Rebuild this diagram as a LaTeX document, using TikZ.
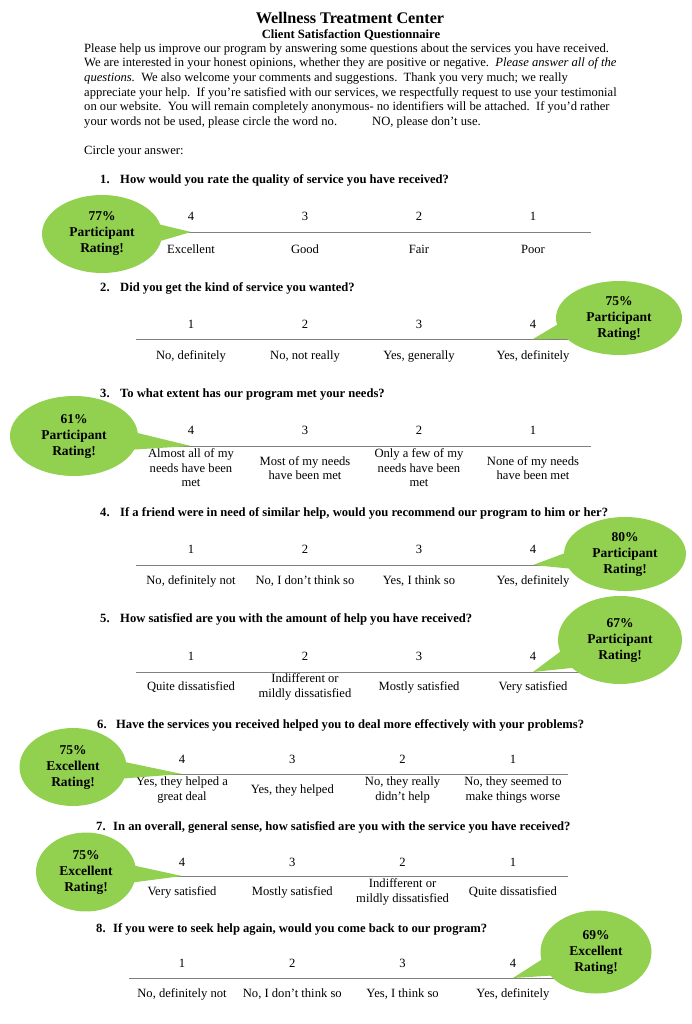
\documentclass[tikz,border=0pt,12pt]{standalone}
\usepackage{fontspec}
\setmainfont{Liberation Serif}
\usetikzlibrary{shapes.callouts}
\definecolor{bubblegreen}{HTML}{92D050}
\definecolor{rulegray}{HTML}{808080}

\tikzset{
  textline/.style={anchor=base west, inner sep=0pt},
  question/.style={anchor=base west, inner sep=0pt, font=\bfseries},
  num/.style={anchor=base, inner sep=0pt},
  answer/.style={align=center, inner sep=0pt},
  scaleline/.style={rulegray, line width=0.8pt},
  bubble/.style={ellipse callout, fill=bubblegreen, callout pointer arc=24,
    align=center, inner sep=0pt, font=\fontsize{13.5}{16}\selectfont\bfseries}
}

\begin{document}
\begin{tikzpicture}[x=1pt,y=-1pt]
  \fontsize{12.6}{14.5}\selectfont
  \useasboundingbox (0,0) rectangle (692,1024);
  % heading
  \node[anchor=base, inner sep=0pt, font=\fontsize{16.2}{18}\selectfont\bfseries] (title) at (350,24) {Wellness Treatment Center};
  \node[anchor=base, inner sep=0pt, font=\bfseries] (subtitle) at (351,39) {Client Satisfaction Questionnaire};
  \node[textline] (p1) at (84,53) {Please help us improve our program by answering some questions about the services you have received.};
  \node[textline] (p2) at (84,67) {We are interested in your honest opinions, whether they are positive or negative.\ \ \textit{Please answer all of the}};
  \node[textline] (p3) at (84,82) {\textit{questions.}\ \ We also welcome your comments and suggestions.\ \ Thank you very much; we really};
  \node[textline] (p4) at (84,97) {appreciate your help.\ \ If you’re satisfied with our services, we respectfully request to use your testimonial};
  \node[textline] (p5) at (84,111) {on our website.\ \ You will remain completely anonymous- no identifiers will be attached.\ \ If you’d rather};
  \node[textline] (p6) at (84,126) {your words not be used, please circle the word no.};
  \node[textline] (p7) at (372,126) {NO, please don’t use.};
  \node[textline] (p8) at (84,155) {Circle your answer:};

  % question 1
  \node[question] (q1) at (100,184) {\makebox[20pt][l]{1.}How would you rate the quality of service you have received?};
  \foreach \v [count=\i] in {4,3,2,1}
    \node[num] (n1\i) at ({191+114*(\i-1)},221) {\v};
  \foreach \t [count=\i] in {Excellent,Good,Fair,Poor}
    \node[answer] (a1\i) at ({191+114*(\i-1)},249) {\t};
  \coordinate (l1) at (136,232);
  \coordinate (r1) at (591,232);
  \draw[scaleline] (l1) -- (r1);
  \node[bubble, callout absolute pointer={(n11 |- l1)}, minimum width=120pt, minimum height=78pt] (b1) at (102,234) {77\%\\Participant\\Rating!};

  % question 2
  \node[question] (q2) at (100,291) {\makebox[20pt][l]{2.}Did you get the kind of service you wanted?};
  \foreach \v [count=\i] in {1,2,3,4}
    \node[num] (n2\i) at ({191+114*(\i-1)},328) {\v};
  \foreach \t [count=\i] in {{No, definitely},{No, not really},{Yes, generally},{Yes, definitely}}
    \node[answer] (a2\i) at ({191+114*(\i-1)},356) {\t};
  \coordinate (l2) at (136,339);
  \coordinate (r2) at (591,339);
  \draw[scaleline] (l2) -- (r2);
  \node[bubble, callout absolute pointer={(n24 |- l2)}, minimum width=126pt, minimum height=74pt] (b2) at (619,318) {75\%\\Participant\\Rating!};

  % question 3
  \node[question] (q3) at (100,397) {\makebox[20pt][l]{3.}To what extent has our program met your needs?};
  \foreach \v [count=\i] in {4,3,2,1}
    \node[num] (n3\i) at ({191+114*(\i-1)},434) {\v};
  \foreach \t [count=\i] in {{Almost all of my\\needs have been\\met},{Most of my needs\\have been met},{Only a few of my\\needs have been\\met},{None of my needs\\have been met}}
    \node[answer] (a3\i) at ({191+114*(\i-1)},468) {\t};
  \coordinate (l3) at (136,446);
  \coordinate (r3) at (591,446);
  \draw[scaleline] (l3) -- (r3);
  \node[bubble, callout absolute pointer={(n31 |- l3)}, minimum width=128pt, minimum height=80pt] (b3) at (74,436) {61\%\\Participant\\Rating!};

  % question 4
  \node[question] (q4) at (100,516) {\makebox[20pt][l]{4.}If a friend were in need of similar help, would you recommend our program to him or her?};
  \foreach \v [count=\i] in {1,2,3,4}
    \node[num] (n4\i) at ({191+114*(\i-1)},553) {\v};
  \foreach \t [count=\i] in {{No, definitely not},{No, I don’t think so},{Yes, I think so},{Yes, definitely}}
    \node[answer] (a4\i) at ({191+114*(\i-1)},581) {\t};
  \coordinate (l4) at (136,565);
  \coordinate (r4) at (591,565);
  \draw[scaleline] (l4) -- (r4);
  \node[bubble, callout absolute pointer={(n44 |- l4)}, minimum width=122pt, minimum height=74pt] (b4) at (625,554) {80\%\\Participant\\Rating!};

  % question 5
  \node[question] (q5) at (100,622) {\makebox[20pt][l]{5.}How satisfied are you with the amount of help you have received?};
  \foreach \v [count=\i] in {1,2,3,4}
    \node[num] (n5\i) at ({191+114*(\i-1)},660) {\v};
  \foreach \t [count=\i] in {{Quite dissatisfied},{Indifferent or\\mildly dissatisfied},{Mostly satisfied},{Very satisfied}}
    \node[answer] (a5\i) at ({191+114*(\i-1)},687) {\t};
  \coordinate (l5) at (136,672);
  \coordinate (r5) at (591,672);
  \draw[scaleline] (l5) -- (r5);
  \node[bubble, callout absolute pointer={(n54 |- l5)}, minimum width=124pt, minimum height=88pt] (b5) at (620,640) {67\%\\Participant\\Rating!};

  % question 6
  \node[question] (q6) at (97,728) {\makebox[19pt][l]{6.}Have the services you received helped you to deal more effectively with your problems?};
  \foreach \v [count=\i] in {4,3,2,1}
    \node[num] (n6\i) at ({182+110.3*(\i-1)},763) {\v};
  \foreach \t [count=\i] in {{Yes, they helped a\\great deal},{Yes, they helped},{No, they really\\didn’t help},{No, they seemed to\\make things worse}}
    \node[answer] (a6\i) at ({182+110.3*(\i-1)},790) {\t};
  \coordinate (l6) at (129,774);
  \coordinate (r6) at (568,774);
  \draw[scaleline] (l6) -- (r6);
  \node[bubble, callout absolute pointer={(n61 |- l6)}, minimum width=107pt, minimum height=78pt] (b6) at (73,767) {75\%\\Excellent\\Rating!};

  % question 7
  \node[question] (q7) at (96,830) {\makebox[17pt][l]{7.}In an overall, general sense, how satisfied are you with the service you have received?};
  \foreach \v [count=\i] in {4,3,2,1}
    \node[num] (n7\i) at ({182+110.3*(\i-1)},866) {\v};
  \foreach \t [count=\i] in {{Very satisfied},{Mostly satisfied},{Indifferent or\\mildly dissatisfied},{Quite dissatisfied}}
    \node[answer] (a7\i) at ({182+110.3*(\i-1)},892) {\t};
  \coordinate (l7) at (129,876);
  \coordinate (r7) at (568,876);
  \draw[scaleline] (l7) -- (r7);
  \node[bubble, callout absolute pointer={(n71 |- l7)}, minimum width=100pt, minimum height=79pt] (b7) at (86,872) {75\%\\Excellent\\Rating!};

  % question 8
  \node[question] (q8) at (96,932) {\makebox[17pt][l]{8.}If you were to seek help again, would you come back to our program?};
  \foreach \v [count=\i] in {1,2,3,4}
    \node[num] (n8\i) at ({182+110.3*(\i-1)},967) {\v};
  \foreach \t [count=\i] in {{No, definitely not},{No, I don’t think so},{Yes, I think so},{Yes, definitely}}
    \node[answer] (a8\i) at ({182+110.3*(\i-1)},994) {\t};
  \coordinate (l8) at (129,978);
  \coordinate (r8) at (568,978);
  \draw[scaleline] (l8) -- (r8);
  \node[bubble, callout absolute pointer={(n84 |- l8)}, minimum width=111pt, minimum height=83pt] (b8) at (596,952) {69\%\\Excellent\\Rating!};
\end{tikzpicture}
\end{document}
